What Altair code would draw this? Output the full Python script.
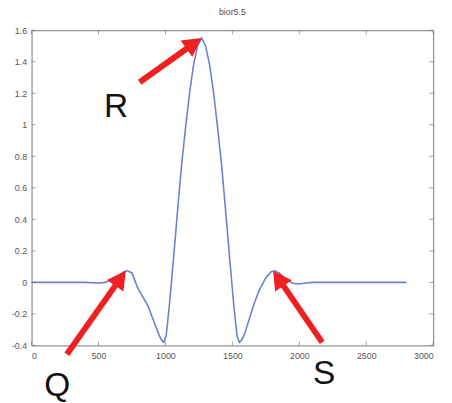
import altair as alt
import pandas as pd

# Wavelet curve (bior5.5)
xs = [0, 100, 200, 300, 400, 450, 500, 550, 600, 650, 690, 715, 750, 790, 830, 870,
      910, 950, 970, 988, 1005, 1030, 1060, 1090, 1120, 1150, 1180, 1210, 1240, 1270,
      1300, 1330, 1360, 1390, 1420, 1450, 1480, 1510, 1535, 1552, 1570, 1590, 1620, 1660,
      1700, 1750, 1790, 1815, 1850, 1900, 1950, 2000, 2050, 2100, 2200, 2400, 2600, 2800]
ys = [0, 0, 0, 0, 0, -0.002, -0.004, 0.0, 0.02, 0.045, 0.068, 0.074, 0.06, -0.03, -0.09, -0.15,
      -0.24, -0.33, -0.365, -0.38, -0.34, -0.14, 0.15, 0.45, 0.74, 0.98, 1.20, 1.38, 1.50, 1.55,
      1.50, 1.38, 1.20, 0.98, 0.74, 0.45, 0.15, -0.14, -0.34, -0.38, -0.365, -0.33, -0.25, -0.14,
      -0.05, 0.03, 0.068, 0.074, 0.06, 0.02, -0.005, -0.01, -0.004, 0, 0, 0, 0, 0]

# Annotations
labels = ["R", "Q", "S"]
label_x = [631, 191, 2186]
label_y = [1.052, -0.724, -0.643]
tail_x = [807, 264, 2171]
tail_y = [1.270, -0.456, -0.381]
shaft_x = [1210, 661, 1846]
shaft_y = [1.514, 0.022, 0.022]
head_x = [1269, 704, 1804]
head_y = [1.55, 0.074, 0.074]
head_angle = [54.5, 35.2, 325.6]

x_ticks = [0, 500, 1000, 1500, 2000, 2500, 3000]
y_ticks = [-0.4, -0.2, 0, 0.2, 0.4, 0.6, 0.8, 1.0, 1.2, 1.4, 1.6]
x_min, x_max = 0, 3000
y_min, y_max = -0.4, 1.6

curve = pd.DataFrame({"x": xs, "y": ys})
ann = pd.DataFrame({"label": labels, "lx": label_x, "ly": label_y,
                    "tx": tail_x, "ty": tail_y, "sx": shaft_x, "sy": shaft_y,
                    "hx": head_x, "hy": head_y, "ang": head_angle})
xt_bottom = pd.DataFrame({"x": x_ticks, "y": [y_min] * len(x_ticks)})
xt_top = pd.DataFrame({"x": x_ticks, "y": [y_max] * len(x_ticks)})
yt_left = pd.DataFrame({"x": [x_min] * len(y_ticks), "y": y_ticks})
yt_right = pd.DataFrame({"x": [x_max] * len(y_ticks), "y": y_ticks})

xscale = alt.Scale(domain=[x_min, x_max], nice=False, zero=False)
yscale = alt.Scale(domain=[y_min, y_max], nice=False, zero=False)

axis_common = dict(domainColor="#777", ticks=False,
                   labelColor="#555", labelFontSize=9, labelFont="Liberation Sans",
                   grid=False)

line = alt.Chart(curve).mark_line(color="#6f7fd0", strokeWidth=1.6, clip=False).encode(
    x=alt.X("x:Q", scale=xscale, title=None,
            axis=alt.Axis(values=x_ticks, format="d", labelPadding=6, **axis_common)),
    y=alt.Y("y:Q", scale=yscale, title=None,
            axis=alt.Axis(values=y_ticks, labelExpr="round(datum.value*10)/10 + ''",
                          labelPadding=5, **axis_common)),
)

frame = alt.Chart(curve).mark_line(opacity=0).encode(
    x=alt.X("x:Q", scale=xscale, title=None,
            axis=alt.Axis(orient="top", values=x_ticks, labels=False, **axis_common)),
    y=alt.Y("y:Q", scale=yscale, title=None,
            axis=alt.Axis(orient="right", values=y_ticks, labels=False, **axis_common)),
)

def ticks(df, orient, xo, yo):
    return alt.Chart(df).mark_tick(
        orient=orient, size=4, thickness=1, color="#777", xOffset=xo, yOffset=yo
    ).encode(
        x=alt.X("x:Q", scale=xscale, axis=None),
        y=alt.Y("y:Q", scale=yscale, axis=None),
    )

tick_layers = [
    ticks(xt_bottom, "vertical", 0, -2),
    ticks(xt_top, "vertical", 0, 2),
    ticks(yt_left, "horizontal", 2, 0),
    ticks(yt_right, "horizontal", -2, 0),
]

shafts = alt.Chart(ann).mark_rule(color="#f02020", strokeWidth=6, clip=False).encode(
    x=alt.X("tx:Q", scale=xscale, axis=None), y=alt.Y("ty:Q", scale=yscale, axis=None),
    x2="sx:Q", y2="sy:Q",
)

heads = alt.Chart(ann).mark_point(
    shape="M0,0L0.55,1L-0.55,1Z", filled=True, color="#f02020", opacity=1,
    size=1400, clip=False,
).encode(
    x=alt.X("hx:Q", scale=xscale, axis=None), y=alt.Y("hy:Q", scale=yscale, axis=None),
    angle=alt.Angle("ang:Q", scale=None),
)

texts = alt.Chart(ann).mark_text(
    fontSize=34, font="Liberation Sans", color="#111", align="center",
    baseline="alphabetic", clip=False,
).encode(
    x=alt.X("lx:Q", scale=xscale, axis=None), y=alt.Y("ly:Q", scale=yscale, axis=None),
    text="label:N",
)

chart = alt.layer(frame, line, *tick_layers, shafts, heads, texts).resolve_axis(
    x="independent", y="independent"
).properties(
    width=409, height=321,
    title=alt.TitleParams("bior5.5", fontSize=9, fontWeight="normal", color="#555",
                          font="Liberation Sans", offset=10),
    autosize=alt.AutoSizeParams(type="none"),
    padding={"left": 24, "top": 19, "right": 11, "bottom": 55},
).configure_view(stroke=None)

chart.save("out.html", embed_options={"renderer": "svg", "actions": False})
